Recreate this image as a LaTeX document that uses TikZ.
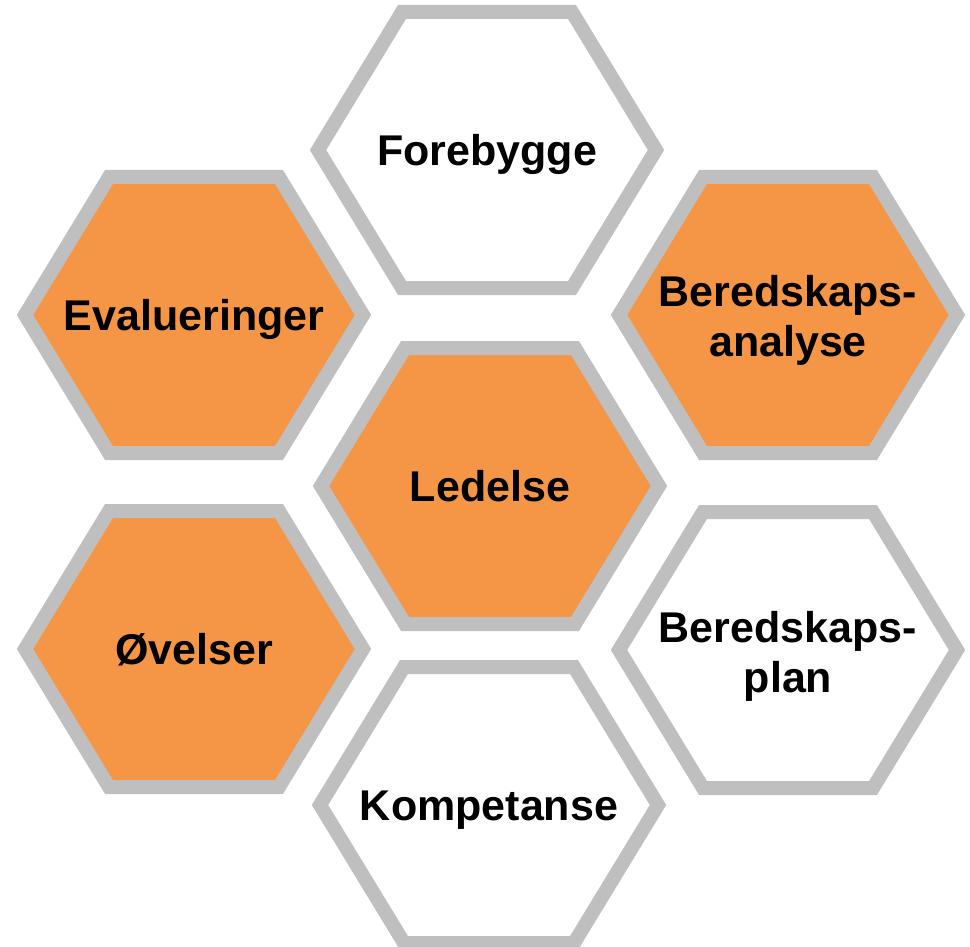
\documentclass[tikz,border=0pt]{standalone}
\usepackage{fontspec}
\setmainfont{Liberation Sans}
\definecolor{cellorange}{HTML}{F49646}
\definecolor{cellgray}{HTML}{BFBFBF}
\tikzset{
  cell/.style={draw=cellgray, line width=14pt},
  celltext/.style={font=\bfseries\fontsize{43}{50}\selectfont, inner sep=0pt,
    text height=31pt, text depth=0pt},
  celltexttwo/.style={font=\bfseries\fontsize{43}{50}\selectfont, inner sep=0pt,
    align=center, anchor=north},
}
\begin{document}
\begin{tikzpicture}[x=1pt, y=-1pt]
  \useasboundingbox (0,0) rectangle (970,947);
  % the seven cells
  \foreach \cx/\cy/\col in {487/150/white, 194/315/cellorange, 788/315/cellorange,
      490/486/cellorange, 194/649/cellorange, 788/650/white, 489/805/white}
    \draw[cell, fill=\col] (\cx-169,\cy) -- (\cx-85,\cy-138) -- (\cx+85,\cy-138)
      -- (\cx+169,\cy) -- (\cx+85,\cy+138) -- (\cx-85,\cy+138) -- cycle;
  % labels
  \node[celltext] (forebygge) at (487,150) {Forebygge};
  \node[celltext] (evalueringer) at (194,315) {Evalueringer};
  \node[celltexttwo] (analyse) at (788,275) {Beredskaps-\\analyse};
  \node[celltext] (ledelse) at (490,486) {Ledelse};
  \node[celltext] (ovelser) at (194,649) {Øvelser};
  \node[celltexttwo] (plan) at (788,611) {Beredskaps-\\plan};
  \node[celltext] (kompetanse) at (489,805) {Kompetanse};
\end{tikzpicture}
\end{document}
